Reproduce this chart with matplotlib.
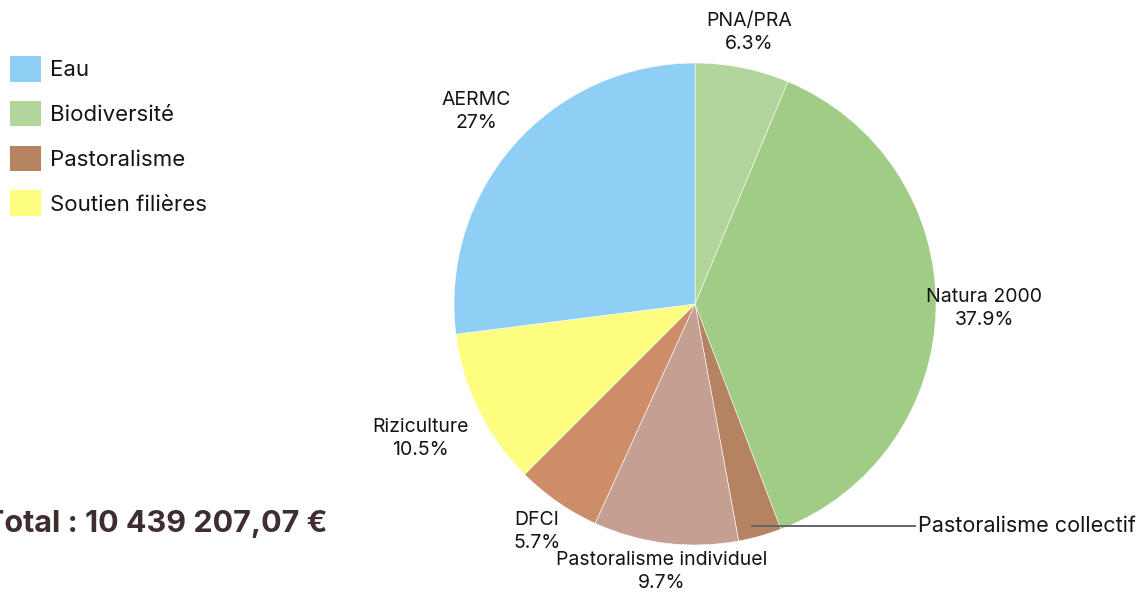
import matplotlib
matplotlib.use("Agg")
import matplotlib.pyplot as plt
from matplotlib.patches import Patch
import numpy as np

plt.rcParams['font.family'] = ['Inter', 'DejaVu Sans']

labels = ["PNA/PRA", "Natura 2000", "Pastoralisme collectif", "Pastoralisme individuel",
          "DFCI", "Riziculture", "AERMC"]
values = [6.3, 37.9, 2.9, 9.7, 5.7, 10.5, 27.0]
pct_text = ["6.3%", "37.9%", "", "9.7%", "5.7%", "10.5%", "27%"]
colors = ["#b2d59b", "#a0cc86", "#b58262", "#c69f93", "#cc8d68", "#fdfd80", "#90cff5"]
label_dist = [1.15, 1.20, None, 1.12, 1.15, 1.27, 1.21]

legend_labels = ["Eau", "Biodiversité", "Pastoralisme", "Soutien filières"]
legend_colors = ["#90cff5", "#b2d59b", "#b58262", "#fdfd80"]

total_text = "Total : 10 439 207,07 €"

W, H = 1143, 592
fig = plt.figure(figsize=(W / 100, H / 100), dpi=100)
ax = fig.add_axes([0, 0, 1, 1])
ax.set_xlim(0, W)
ax.set_ylim(0, H)
ax.set_aspect('equal')
ax.axis('off')

cx, cy, R = 695, H - 304, 241
wedges, _ = ax.pie(values, colors=colors, startangle=90, counterclock=False,
                   center=(cx, cy), radius=R, frame=True,
                   wedgeprops=dict(edgecolor='white', linewidth=0.4))
ax.set_xlim(0, W)
ax.set_ylim(0, H)
ax.axis('off')

txt_kw = dict(fontsize=14, color='#141414', ha='center', va='center', linespacing=1.35)
for w, lab, pt, d in zip(wedges, labels, pct_text, label_dist):
    ang = np.deg2rad((w.theta1 + w.theta2) / 2)
    if d is None:
        # leader-line label
        px = cx + 0.95 * R * np.cos(ang) - 5
        py = cy + 0.95 * R * np.sin(ang) - 2
        ax.plot([px, 915], [py, py], color='#666666', lw=1.4)
        ax.text(918, py, lab, fontsize=15.5, color='#141414', ha='left', va='center')
        continue
    x = cx + d * R * np.cos(ang)
    y = cy + d * R * np.sin(ang)
    ax.text(x, y, f"{lab}\n{pt}", **txt_kw)

handles = [Patch(facecolor=c, edgecolor='none') for c in legend_colors]
fig.legend(handles, legend_labels, loc='upper left',
           bbox_to_anchor=(10 / W, 1 - 56 / H), frameon=False, fontsize=16,
           labelcolor='#141414',
           handlelength=1.4, handleheight=1.4, handletextpad=0.4,
           labelspacing=0.86, borderaxespad=0, borderpad=0)

ax.text(328, H - 524, total_text, fontsize=22, fontweight='bold', color='#3f2d30',
        ha='right', va='center')

fig.savefig("out.png", dpi=100)
